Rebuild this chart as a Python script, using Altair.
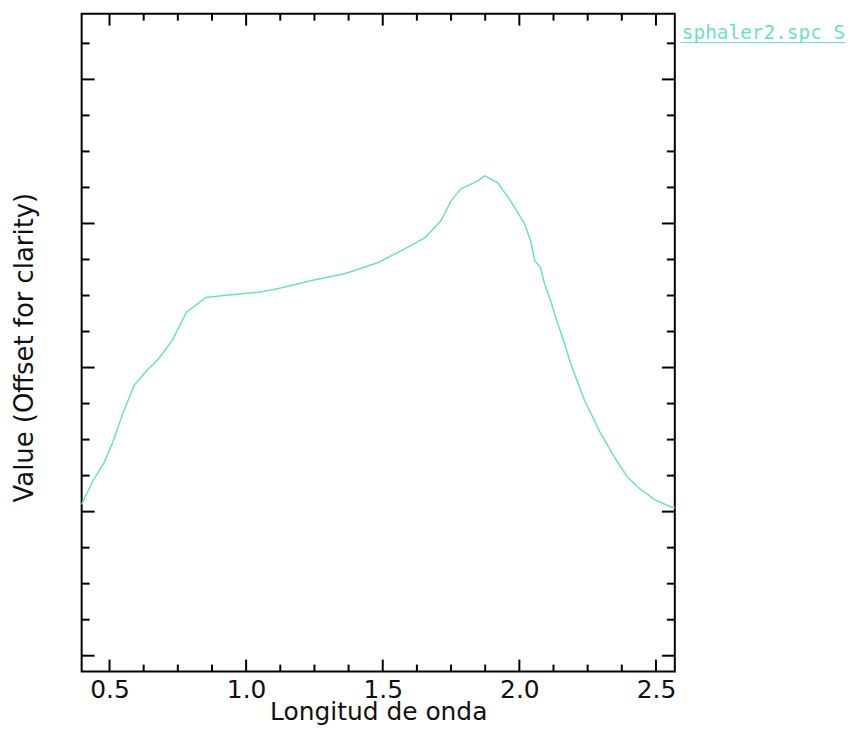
import altair as alt
import pandas as pd

# spectrum readings (wavelength, offset value)
wavelength = [0.398, 0.438, 0.482, 0.511, 0.547, 0.591, 0.635, 0.682, 0.730, 0.781,
              0.853, 0.926, 1.046, 1.119, 1.240, 1.363, 1.484, 1.582, 1.655, 1.713,
              1.750, 1.786, 1.848, 1.873, 1.921, 1.968, 2.019, 2.041, 2.056, 2.077,
              2.092, 2.114, 2.139, 2.165, 2.187, 2.238, 2.296, 2.347, 2.394, 2.431,
              2.493, 2.551, 2.569]
value = [1.050, 1.209, 1.347, 1.478, 1.672, 1.879, 1.976, 2.066, 2.190, 2.383,
         2.487, 2.501, 2.522, 2.549, 2.604, 2.653, 2.729, 2.826, 2.902, 3.019,
         3.157, 3.240, 3.295, 3.330, 3.282, 3.157, 2.998, 2.881, 2.743, 2.694,
         2.584, 2.466, 2.314, 2.169, 2.031, 1.775, 1.548, 1.382, 1.244, 1.174,
         1.085, 1.036, 1.029]

x_major = [0.5, 1.0, 1.5, 2.0, 2.5]
x_minor = [0.625, 0.75, 0.875, 1.125, 1.25, 1.375, 1.625, 1.75, 1.875,
           2.125, 2.25, 2.375]
y_major = [0, 1, 2, 3, 4]
y_minor = [0.25, 0.5, 0.75, 1.25, 1.5, 1.75, 2.25, 2.5, 2.75, 3.25, 3.5, 3.75, 4.25]

legend_label = "sphaler2.spc S"

W, H = 596, 661
XDOM = [0.398, 2.569]
YDOM = [-0.11, 4.456]
LINE_COLOR = "#6cdfcc"
FONT = "DejaVu Sans"

df = pd.DataFrame({"w": wavelength, "v": value})
xs = alt.Scale(domain=XDOM, nice=False, zero=False)
ys = alt.Scale(domain=YDOM, nice=False, zero=False)

line = alt.Chart(df).mark_line(color=LINE_COLOR, strokeWidth=1.5).encode(
    x=alt.X("w:Q", scale=xs,
            axis=alt.Axis(title="Longitud de onda", values=x_major, format=".1f",
                          grid=False, ticks=False, tickSize=0, domain=False,
                          labelFont=FONT, labelFontSize=25, labelColor="#111",
                          labelBaseline="alphabetic", labelPadding=26,
                          labelFlush=False, labelOverlap=False,
                          titleFont=FONT, titleFontSize=25, titleFontWeight="normal",
                          titleColor="#111", titleBaseline="alphabetic", titleY=48)),
    y=alt.Y("v:Q", scale=ys,
            axis=alt.Axis(title="Value (Offset for clarity)", labels=False,
                          grid=False, ticks=False, domain=False,
                          titleFont=FONT, titleFontSize=26, titleFontWeight="normal",
                          titleColor="#111", titleBaseline="alphabetic",
                          titleAngle=270, titleX=-49, titleY=335, titleAlign="center")),
)

def xticks(vals, length):
    d = pd.DataFrame({"t": vals})
    bot = alt.Chart(d).mark_rule(color="black", strokeWidth=2).encode(
        x=alt.X("t:Q", scale=xs), y=alt.value(H), y2=alt.value(H - length))
    top = alt.Chart(d).mark_rule(color="black", strokeWidth=2).encode(
        x=alt.X("t:Q", scale=xs), y=alt.value(0), y2=alt.value(length))
    return bot + top

def yticks(vals, length):
    d = pd.DataFrame({"t": vals})
    left = alt.Chart(d).mark_rule(color="black", strokeWidth=2).encode(
        y=alt.Y("t:Q", scale=ys), x=alt.value(0), x2=alt.value(length))
    right = alt.Chart(d).mark_rule(color="black", strokeWidth=2).encode(
        y=alt.Y("t:Q", scale=ys), x=alt.value(W), x2=alt.value(W - length))
    return left + right

leg_df = pd.DataFrame({"label": [legend_label]})
legend_text = alt.Chart(leg_df).mark_text(
    color=LINE_COLOR, font="DejaVu Sans Mono", fontSize=19.5, align="left",
    baseline="alphabetic"
).encode(text="label:N", x=alt.value(603), y=alt.value(25))
legend_rule = alt.Chart(leg_df).mark_rule(color=LINE_COLOR, strokeWidth=1).encode(
    x=alt.value(602), x2=alt.value(775), y=alt.value(29))

chart = alt.layer(
    line,
    xticks(x_major, 12), xticks(x_minor, 7),
    yticks(y_major, 13), yticks(y_minor, 8),
    legend_text, legend_rule,
).properties(
    width=W, height=H,
    autosize=alt.AutoSizeParams(type="none"),
    padding={"left": 74, "top": 4, "right": 171, "bottom": 56},
    background="white",
).configure_view(stroke="black", strokeWidth=2)

chart.save("out.html", embed_options={"renderer": "svg", "actions": False})
